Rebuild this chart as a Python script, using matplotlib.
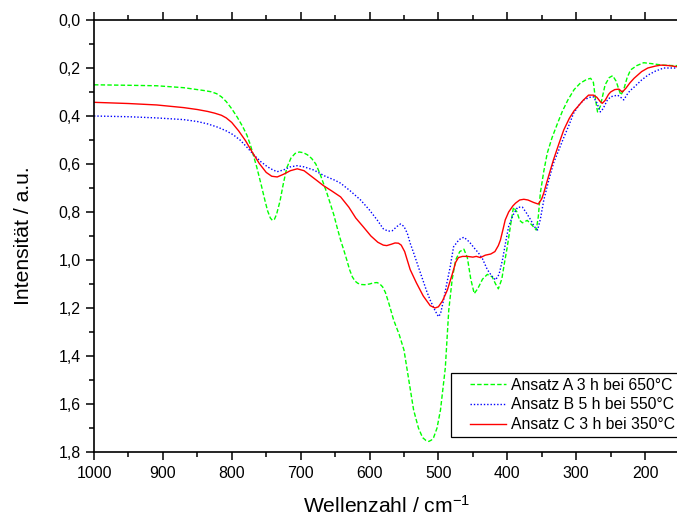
import matplotlib
matplotlib.use("Agg")
import numpy as np
import matplotlib.pyplot as plt
from matplotlib.ticker import MultipleLocator, FuncFormatter
from matplotlib.legend_handler import HandlerLine2D
from matplotlib.lines import Line2D

plt.rcParams["font.family"] = ["Liberation Sans", "DejaVu Sans"]
plt.rcParams["mathtext.fontset"] = "custom"
plt.rcParams["mathtext.rm"] = "Liberation Sans"
plt.rcParams["mathtext.it"] = "Liberation Sans"

# ---------- Data ----------
wn_a = [1000, 950, 909, 870, 850, 840, 830, 822, 815, 808, 800, 792, 784, 778, 773, 769, 764,
        757, 752, 748, 744, 741, 738, 735, 730, 725, 720, 714, 708, 702, 696, 690, 684, 678,
        672, 667, 662, 657, 652, 647, 642, 637, 633, 629, 625, 621, 617, 612, 607, 600, 594,
        589, 585, 581, 577, 572, 565, 557, 550, 543, 536, 529, 523, 518, 514, 510, 507, 502,
        497, 490, 485, 480, 475, 469, 463, 458, 453, 448, 443, 436, 429, 422, 417, 413, 408,
        404, 400, 395, 391, 386, 382, 378, 371, 364, 358, 355, 352, 347, 342, 335, 327, 320,
        312, 303, 294, 285, 279, 275, 272, 269, 265, 258, 252, 247, 242, 238, 235, 231, 226,
        221, 212, 202, 190, 175, 160, 150]
int_a = [0.270, 0.272, 0.274, 0.282, 0.290, 0.294, 0.299, 0.307, 0.320, 0.340, 0.370, 0.405,
         0.445, 0.480, 0.520, 0.560, 0.610, 0.690, 0.750, 0.795, 0.825, 0.835, 0.830, 0.810,
         0.755, 0.680, 0.615, 0.575, 0.556, 0.550, 0.553, 0.562, 0.577, 0.600, 0.640, 0.680,
         0.720, 0.765, 0.810, 0.865, 0.917, 0.962, 1.000, 1.040, 1.070, 1.088, 1.097, 1.102,
         1.103, 1.100, 1.095, 1.094, 1.100, 1.112, 1.135, 1.180, 1.250, 1.310, 1.375, 1.500,
         1.625, 1.700, 1.740, 1.752, 1.756, 1.750, 1.740, 1.700, 1.625, 1.450, 1.210, 1.080,
         1.000, 0.965, 0.955, 0.990, 1.080, 1.140, 1.120, 1.080, 1.060, 1.070, 1.100, 1.120,
         1.080, 1.010, 0.945, 0.850, 0.780, 0.800, 0.835, 0.845, 0.835, 0.855, 0.875, 0.820,
         0.720, 0.630, 0.555, 0.490, 0.430, 0.380, 0.333, 0.290, 0.263, 0.248, 0.243, 0.260,
         0.330, 0.383, 0.360, 0.270, 0.240, 0.232, 0.255, 0.290, 0.313, 0.290, 0.240, 0.208,
         0.190, 0.178, 0.182, 0.188, 0.190, 0.190]

wn_b = [1000, 950, 909, 870, 850, 835, 820, 808, 798, 788, 778, 768, 758, 748, 740, 734, 725,
        715, 705, 695, 681, 665, 650, 642, 628, 613, 600, 589, 580, 573, 567, 560, 555, 550,
        545, 541, 536, 526, 517, 512, 505, 500, 497, 492, 488, 483, 478, 470, 463, 455, 448,
        442, 436, 429, 423, 417, 412, 407, 402, 398, 392, 385, 378, 372, 366, 361, 356, 352,
        347, 340, 333, 325, 318, 310, 304, 296, 289, 280, 275, 270, 265, 261, 255, 250, 240,
        235, 231, 226, 222, 216, 205, 196, 185, 173, 160, 150]
int_b = [0.400, 0.403, 0.408, 0.415, 0.423, 0.433, 0.447, 0.462, 0.478, 0.500, 0.530, 0.562,
         0.590, 0.612, 0.625, 0.632, 0.625, 0.612, 0.607, 0.612, 0.625, 0.650, 0.668, 0.680,
         0.712, 0.750, 0.792, 0.833, 0.870, 0.880, 0.878, 0.860, 0.850, 0.860, 0.890, 0.930,
         0.970, 1.055, 1.130, 1.167, 1.210, 1.236, 1.225, 1.160, 1.100, 1.030, 0.945, 0.915,
         0.905, 0.925, 0.950, 0.970, 0.995, 1.040, 1.065, 1.083, 1.060, 1.000, 0.920, 0.860,
         0.815, 0.780, 0.780, 0.805, 0.833, 0.860, 0.875, 0.830, 0.750, 0.670, 0.597, 0.540,
         0.490, 0.435, 0.390, 0.355, 0.333, 0.322, 0.320, 0.345, 0.383, 0.370, 0.335, 0.320,
         0.313, 0.323, 0.333, 0.310, 0.295, 0.280, 0.250, 0.230, 0.213, 0.200, 0.200, 0.200]

wn_c = [1000, 950, 909, 870, 850, 835, 825, 815, 808, 800, 790, 780, 770, 760, 750, 742, 734,
        725, 715, 705, 695, 685, 675, 667, 655, 642, 630, 620, 609, 598, 588, 580, 575, 568,
        563, 558, 554, 549, 541, 532, 522, 512, 505, 500, 494, 487, 480, 475, 471, 465, 458,
        450, 445, 439, 432, 424, 418, 413, 410, 406, 403, 398, 392, 388, 382, 376, 370, 362,
        355, 350, 347, 340, 333, 325, 318, 310, 303, 298, 290, 282, 275, 270, 265, 262, 258,
        253, 250, 244, 238, 233, 228, 222, 216, 205, 196, 185, 177, 165, 153, 150]
int_c = [0.343, 0.348, 0.354, 0.365, 0.373, 0.381, 0.388, 0.397, 0.408, 0.427, 0.462, 0.503,
         0.552, 0.598, 0.635, 0.651, 0.654, 0.643, 0.628, 0.620, 0.628, 0.650, 0.672, 0.690,
         0.712, 0.737, 0.780, 0.825, 0.862, 0.900, 0.926, 0.938, 0.940, 0.934, 0.929, 0.930,
         0.938, 0.965, 1.040, 1.095, 1.150, 1.190, 1.200, 1.195, 1.170, 1.125, 1.060, 1.010,
         0.990, 0.985, 0.985, 0.988, 0.985, 0.990, 0.980, 0.975, 0.965, 0.940, 0.917, 0.870,
         0.833, 0.800, 0.775, 0.763, 0.750, 0.747, 0.750, 0.760, 0.767, 0.745, 0.720, 0.650,
         0.583, 0.515, 0.458, 0.410, 0.378, 0.362, 0.335, 0.313, 0.313, 0.322, 0.340, 0.347,
         0.335, 0.310, 0.300, 0.290, 0.288, 0.300, 0.285, 0.262, 0.243, 0.215, 0.200, 0.192,
         0.188, 0.190, 0.195, 0.196]

labels = ["Ansatz A 3 h bei 650°C", "Ansatz B 5 h bei 550°C", "Ansatz C 3 h bei 350°C"]


# legend handle with some empty room on the left (like the original box)
class PaddedHandler(HandlerLine2D):
    def create_artists(self, legend, orig_handle, xdescent, ydescent, width, height,
                       fontsize, trans):
        arts = super().create_artists(legend, orig_handle, xdescent, ydescent, width,
                                      height, fontsize, trans)
        for a in arts:
            xd = np.asarray(a.get_xdata(), dtype=float)
            if len(xd) >= 2:
                a.set_xdata(np.linspace(xd[0] + 0.28 * width, xd[-1], len(xd)))
        return arts


# ---------- Plot ----------
fig = plt.figure(figsize=(6.77, 5.26), dpi=100)
ax = fig.add_axes([94 / 677, 74 / 526, (679.5 - 94) / 677, 432 / 526])

la, = ax.plot(wn_a, int_a, color="#00ff00", lw=1.0, dashes=(3.2, 1.6), label=labels[0])
lb, = ax.plot(wn_b, int_b, color="#0000ff", lw=1.0, dashes=(1.0, 1.4), label=labels[1])
lc, = ax.plot(wn_c, int_c, color="#ff0000", lw=1.0, label=labels[2])

ax.set_xlim(1000, 150)
ax.set_ylim(1.8, 0.0)

ax.xaxis.set_major_locator(MultipleLocator(100))
ax.xaxis.set_minor_locator(MultipleLocator(50))
ax.yaxis.set_major_locator(MultipleLocator(0.2))
ax.yaxis.set_minor_locator(MultipleLocator(0.1))
ax.yaxis.set_major_formatter(FuncFormatter(lambda v, p: f"{v:.1f}".replace(".", ",")))
ax.xaxis.set_major_formatter(FuncFormatter(lambda v, p: f"{v:.0f}"))

ax.tick_params(which="both", direction="out", top=True, right=False, width=1.1,
               labelsize=11.4, colors="black")
ax.tick_params(which="major", length=5.8, pad=4)
ax.tick_params(which="minor", length=3.4)
for side in ["left", "bottom", "top"]:
    ax.spines[side].set_linewidth(1.2)
ax.spines["right"].set_visible(False)

ax.set_xlabel("Wellenzahl / cm$^{-1}$", fontsize=15.2, labelpad=10)
ax.set_ylabel("Intensität / a.u.", fontsize=15.2, labelpad=18)

leg = ax.legend(handles=[la, lb, lc], loc="lower right", bbox_to_anchor=(1.0, 0.035),
                borderaxespad=0, fontsize=11.3, frameon=True, fancybox=False,
                edgecolor="black", framealpha=1, borderpad=0.3, labelspacing=0.3,
                handlelength=3.2, handletextpad=0.3,
                handler_map={Line2D: PaddedHandler()})
leg.get_frame().set_linewidth(0.9)

fig.savefig("out.png", dpi=100)
